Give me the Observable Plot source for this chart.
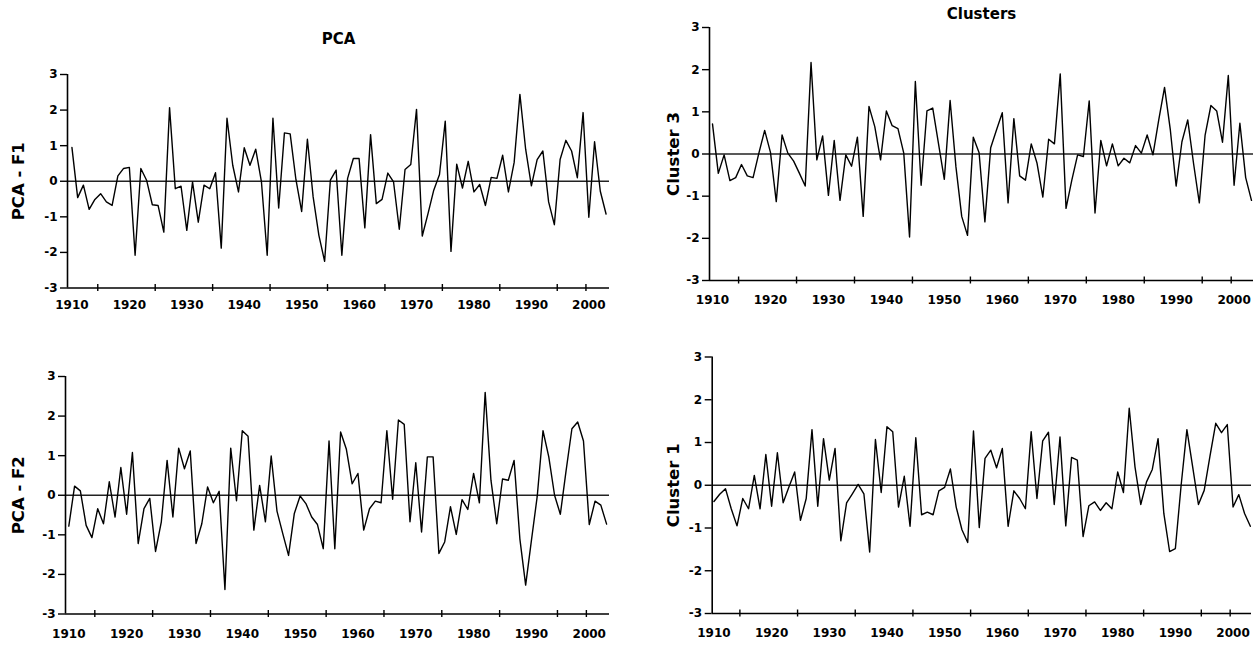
<!DOCTYPE html>
<html><head><meta charset="utf-8">
<script src="https://cdn.jsdelivr.net/npm/d3@7"></script>
<script src="https://cdn.jsdelivr.net/npm/@observablehq/plot@0.6"></script>
<style>
body{margin:0;background:#fff;}
#wrap{position:relative;width:1260px;height:649px;overflow:hidden;background:#fff;}
#wrap svg{position:absolute;}
</style></head><body><div id="wrap"></div>
<script>
const years = d3.range(1910, 2004);
const pcaF1 = [
 0.95,-0.46,-0.11,-0.79,-0.51,-0.35,-0.58,-0.68, 0.15, 0.36,
 0.39,-2.08, 0.36, 0.03,-0.66,-0.68,-1.43, 2.07,-0.21,-0.14,
-1.38,-0.02,-1.15,-0.11,-0.21, 0.24,-1.88, 1.77, 0.45,-0.30,
 0.94, 0.45, 0.90,-0.02,-2.08, 1.77,-0.75, 1.36, 1.33, 0.05,
-0.85, 1.18,-0.44,-1.52,-2.25, 0.03, 0.31,-2.08, 0.08, 0.64,
 0.64,-1.31, 1.31,-0.63,-0.51, 0.23,-0.02,-1.35, 0.33, 0.47,
 2.02,-1.54,-0.91,-0.25, 0.19, 1.69,-1.97, 0.48,-0.19, 0.56,
-0.30,-0.09,-0.68, 0.11, 0.08, 0.73,-0.30, 0.53, 2.44, 0.90,
-0.13, 0.61, 0.85,-0.58,-1.22, 0.61, 1.15, 0.85, 0.10, 1.93,
-1.01, 1.11,-0.28,-0.92];
const cluster3 = [
 0.71,-0.46,-0.02,-0.63,-0.56,-0.25,-0.52,-0.56, 0.02, 0.56,
 0.04,-1.13, 0.45, 0.02,-0.17,-0.46,-0.76, 2.17,-0.14, 0.43,
-0.98, 0.32,-1.10,-0.02,-0.29, 0.40,-1.48, 1.13, 0.65,-0.14,
 1.02, 0.67, 0.60, 0.02,-1.97, 1.72,-0.74, 1.02, 1.09, 0.24,
-0.60, 1.27,-0.30,-1.48,-1.93, 0.40, 0.03,-1.61, 0.15, 0.57,
 0.98,-1.16, 0.84,-0.52,-0.62, 0.24,-0.22,-1.02, 0.35, 0.24,
 1.90,-1.29,-0.62,-0.02,-0.06, 1.26,-1.40, 0.32,-0.28, 0.24,
-0.28,-0.10,-0.21, 0.20, 0.02, 0.45,-0.02, 0.81, 1.58, 0.57,
-0.76, 0.29, 0.81,-0.22,-1.16, 0.45, 1.15, 1.02, 0.28, 1.86,
-0.74, 0.73,-0.56,-1.10];
const pcaF2 = [
-0.78, 0.23, 0.11,-0.76,-1.07,-0.34,-0.72, 0.34,-0.55, 0.70,
-0.48, 1.08,-1.22,-0.34,-0.08,-1.42,-0.67, 0.88,-0.55, 1.19,
 0.67, 1.12,-1.22,-0.72, 0.21,-0.19, 0.10,-2.38, 1.19,-0.14,
 1.63, 1.49,-0.88, 0.25,-0.67, 0.99,-0.40,-0.97,-1.52,-0.46,
-0.02,-0.21,-0.55,-0.74,-1.35, 1.37,-1.35, 1.60, 1.16, 0.29,
 0.55,-0.88,-0.34,-0.15,-0.19, 1.63,-0.10, 1.90, 1.79,-0.67,
 0.82,-0.93, 0.97, 0.97,-1.47,-1.18,-0.29,-0.99,-0.11,-0.36,
 0.55,-0.19, 2.60, 0.38,-0.72, 0.41, 0.38, 0.88,-1.10,-2.27,
-1.14,-0.03, 1.63, 0.97, 0.00,-0.48, 0.63, 1.68, 1.85, 1.37,
-0.74,-0.15,-0.25,-0.73];
const cluster1 = [
-0.38,-0.21,-0.08,-0.55,-0.95,-0.31,-0.55, 0.23,-0.55, 0.72,
-0.49, 0.76,-0.41,-0.04, 0.31,-0.82,-0.31, 1.30,-0.49, 1.09,
 0.12, 0.86,-1.30,-0.41,-0.20, 0.02,-0.20,-1.56, 1.07,-0.17,
 1.37, 1.25,-0.51, 0.21,-0.96, 1.11,-0.69,-0.63,-0.69,-0.13,
-0.05, 0.38,-0.51,-1.04,-1.34, 1.27,-0.99, 0.63, 0.82, 0.41,
 0.86,-0.96,-0.13,-0.31,-0.55, 1.25,-0.31, 1.04, 1.24,-0.45,
 1.13,-0.95, 0.65, 0.59,-1.20,-0.48,-0.39,-0.59,-0.41,-0.55,
 0.31,-0.17, 1.80, 0.43,-0.45, 0.08, 0.37, 1.09,-0.66,-1.55,
-1.48, 0.00, 1.30, 0.43,-0.45,-0.12, 0.68, 1.45, 1.23, 1.42,
-0.51,-0.22,-0.66,-0.96];
const labelYears = [1910,1920,1930,1940,1950,1960,1970,1980,1990,2000];
const tickYears = [1914.5,1924.5,1934.5,1944.5,1954.5,1964.5,1974.5,1984.5,1994.5,1999.5];
const yTicks = [-3,-2,-1,0,1,2,3];

const FONT = "DejaVu Sans, Verdana, sans-serif";

function panel(cfg) {
  const rows = years.map((yr, i) => ({year: yr, value: cfg.values[i]}));
  const marks = [
    Plot.ruleY([0], {stroke: "#222", strokeWidth: 1.6}),
    Plot.lineY(rows, {x: "year", y: "value", stroke: "#000", strokeWidth: 1.4}),
    Plot.ruleX([cfg.xDomain[0]], {stroke: "#000", strokeWidth: 1.6}),
    Plot.ruleY([-3], {stroke: "#000", strokeWidth: 1.6}),
    Plot.ruleX(tickYears, {x: d => d, y1: -3, y2: -3, insetTop: -3.5, insetBottom: -3.5, stroke: "#000", strokeWidth: 1.4}),
    Plot.axisY({ticks: yTicks, tickSize: 7, tickPadding: 3, tickFormat: d => String(d), label: null, fontSize: 12, fontWeight: "bold", strokeWidth: 1.4}),
    Plot.axisX({ticks: labelYears, tickSize: 0, tickPadding: cfg.xPad, tickFormat: d => String(d), label: null, fontSize: 12, fontWeight: "bold"}),
    Plot.text([cfg.ylabel], {text: d => d, frameAnchor: "left", textAnchor: "middle", rotate: -90, dx: cfg.ylabelDx, fontSize: 16.5, fontWeight: "bold", lineAnchor: "middle"})
  ];
  if (cfg.title) marks.push(Plot.text([cfg.title], {text: d => d, frameAnchor: "top", textAnchor: "middle", dy: cfg.titleDy, fontSize: 15, fontWeight: "bold", lineAnchor: "middle"}));
  const svg = Plot.plot({
    width: cfg.width, height: cfg.height,
    marginLeft: cfg.mL, marginRight: cfg.mR, marginTop: cfg.mT, marginBottom: cfg.mB,
    x: {type: "linear", domain: cfg.xDomain},
    y: {domain: [-3, 3]},
    style: {fontFamily: FONT, fontWeight: "bold", fontSize: "12px", color: "#000", background: "transparent", overflow: "visible"},
    marks
  });
  svg.style.left = cfg.left + "px";
  svg.style.top = cfg.top + "px";
  document.getElementById("wrap").appendChild(svg);
}

panel({values: pcaF1, ylabel: "PCA - F1", title: "PCA", left: 0, top: 0, width: 640, height: 325,
  mL: 67, mR: 31, mT: 74, mB: 37.5, xDomain: [1909.23, 2003.6], xPad: 12, ylabelDx: -49, titleDy: -35});
panel({values: cluster3, ylabel: "Cluster 3", title: "Clusters", left: 640, top: 0, width: 620, height: 325,
  mL: 69, mR: 7, mT: 27, mB: 45, xDomain: [1909.48, 2003.35], xPad: 15, ylabelDx: -36, titleDy: -13});
panel({values: pcaF2, ylabel: "PCA - F2", title: null, left: 0, top: 325, width: 640, height: 324,
  mL: 65, mR: 31, mT: 51, mB: 35.5, xDomain: [1909.43, 2003.5], xPad: 15, ylabelDx: -47});
panel({values: cluster1, ylabel: "Cluster 1", title: null, left: 640, top: 325, width: 620, height: 324,
  mL: 71.7, mR: 9, mT: 31.5, mB: 36, xDomain: [1909.7, 2003.2], xPad: 15, ylabelDx: -38.7});
</script></body></html>
